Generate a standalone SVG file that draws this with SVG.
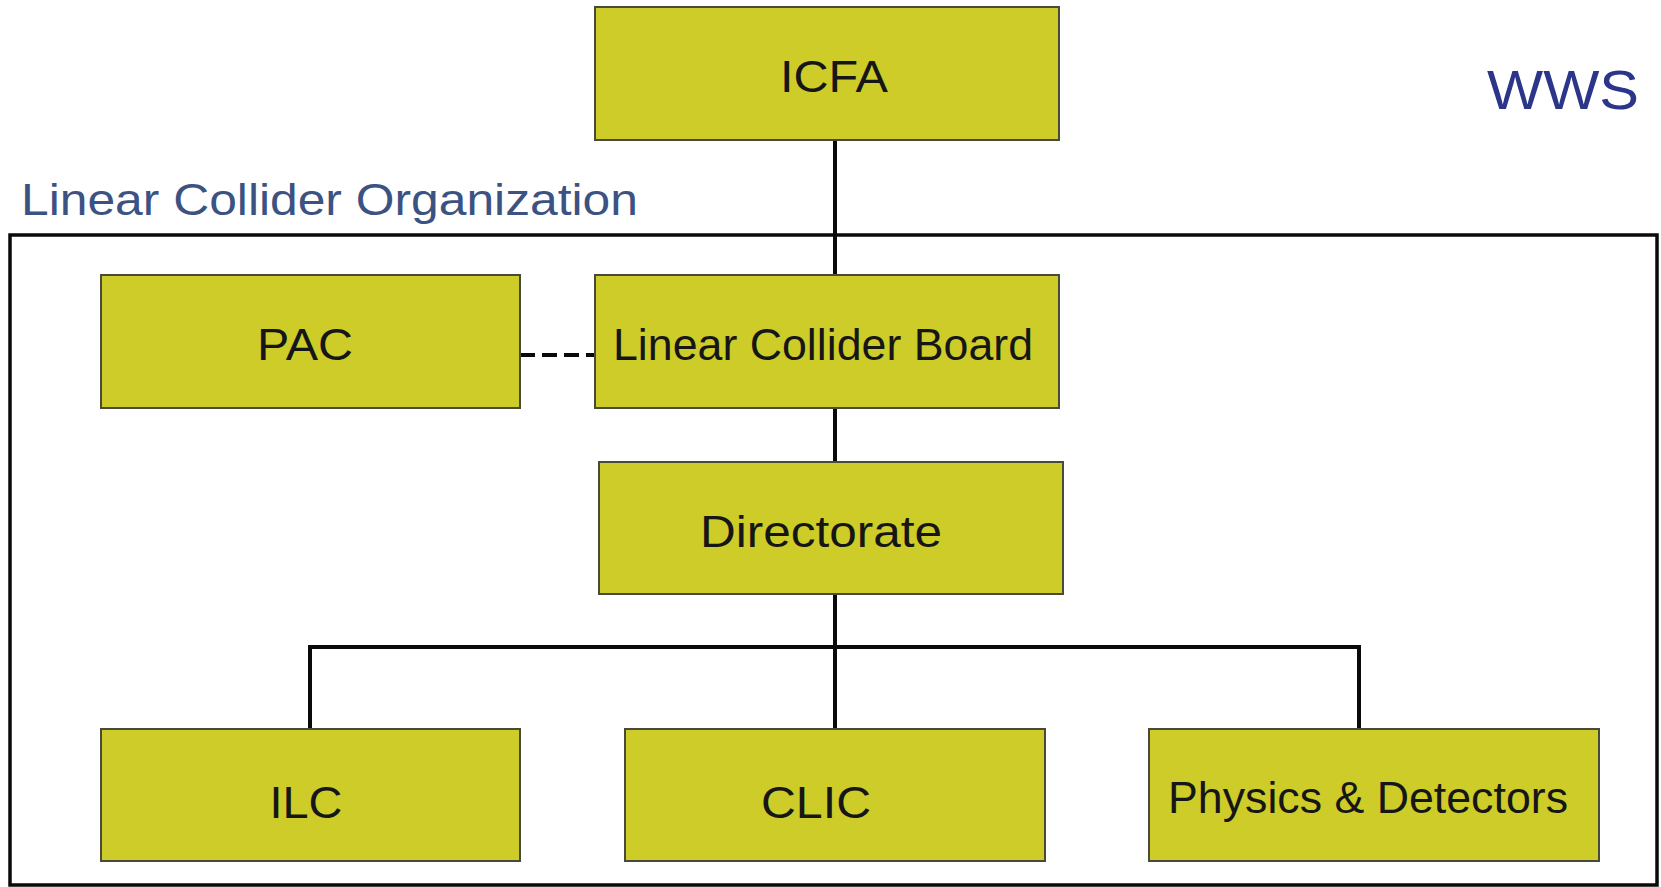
<svg xmlns="http://www.w3.org/2000/svg" width="1661" height="887" viewBox="0 0 1661 887">
<style>
.box{fill:#cdcc28;stroke:#4a4a38;stroke-width:2}
.lbl{font-family:"Liberation Sans",Arial,sans-serif;font-size:44px;fill:#161616;text-anchor:middle}
.con{stroke:#0a0a0a;stroke-width:4;fill:none}
</style>
<rect width="1661" height="887" fill="#ffffff"/>
<g id="frame">
<rect x="10" y="235" width="1647" height="650" fill="none" stroke="#0a0a0a" stroke-width="3.5"/>
<text x="21" y="215" font-family="'Liberation Sans',Arial,sans-serif" font-size="45" fill="#3c5283" textLength="617" lengthAdjust="spacingAndGlyphs">Linear Collider Organization</text>
<text x="1487" y="109" font-family="'Liberation Sans',Arial,sans-serif" font-size="55" fill="#2b3589" textLength="152" lengthAdjust="spacingAndGlyphs">WWS</text>
</g>
<g id="connectors">
<line class="con" x1="835" y1="140" x2="835" y2="275"/>
<line class="con" x1="835" y1="408" x2="835" y2="462"/>
<line class="con" x1="835" y1="594" x2="835" y2="729"/>
<polyline class="con" points="310,729 310,647 1359,647 1359,729"/>
<line x1="520" y1="355" x2="595" y2="355" stroke="#0a0a0a" stroke-width="4" stroke-dasharray="15,7"/>
</g>
<g id="icfa">
<rect class="box" x="595" y="7" width="464" height="133"/>
<text class="lbl" x="834" y="92" textLength="108" lengthAdjust="spacingAndGlyphs">ICFA</text>
</g>
<g id="pac">
<rect class="box" x="101" y="275" width="419" height="133"/>
<text class="lbl" x="305" y="360" textLength="96" lengthAdjust="spacingAndGlyphs">PAC</text>
</g>
<g id="lcb">
<rect class="box" x="595" y="275" width="464" height="133"/>
<text class="lbl" x="823" y="360" textLength="420" lengthAdjust="spacingAndGlyphs">Linear Collider Board</text>
</g>
<g id="directorate">
<rect class="box" x="599" y="462" width="464" height="132"/>
<text class="lbl" x="821" y="547" textLength="242" lengthAdjust="spacingAndGlyphs">Directorate</text>
</g>
<g id="ilc">
<rect class="box" x="101" y="729" width="419" height="132"/>
<text class="lbl" x="306" y="818" textLength="73" lengthAdjust="spacingAndGlyphs">ILC</text>
</g>
<g id="clic">
<rect class="box" x="625" y="729" width="420" height="132"/>
<text class="lbl" x="816" y="818" textLength="110" lengthAdjust="spacingAndGlyphs">CLIC</text>
</g>
<g id="physics">
<rect class="box" x="1149" y="729" width="450" height="132"/>
<text class="lbl" x="1368" y="813" font-size="41" textLength="400" lengthAdjust="spacingAndGlyphs">Physics &amp; Detectors</text>
</g>
</svg>
